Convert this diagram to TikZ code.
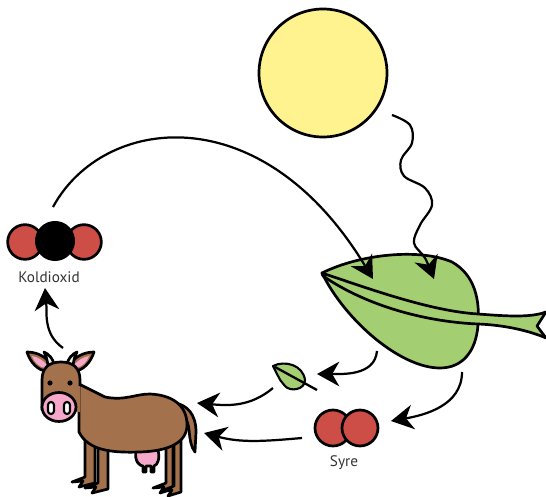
\documentclass[tikz,border=0pt]{standalone}
\usepackage{fontspec}
\newfontfamily\lblfont{PT Sans}
\usetikzlibrary{arrows.meta,positioning}

\definecolor{sunfill}{HTML}{FFF38F}
\definecolor{leafgreen}{HTML}{A4CE72}
\definecolor{molred}{HTML}{CC4E46}
\definecolor{cowbrown}{HTML}{A3714B}
\definecolor{cowpink}{HTML}{F5A8CA}
\definecolor{hornwhite}{HTML}{F1EEE6}
\definecolor{lbltext}{HTML}{333333}

\tikzset{
  outl/.style={draw=black, line width=2.3pt, line join=round},
  flow/.style={draw=black, line width=1.9pt, -{Stealth[length=19pt,width=21pt,inset=6pt]}},
  atom/.style={circle, outl, inner sep=0pt},
  lbl/.style={font=\lblfont\fontsize{13}{15}\selectfont, text=lbltext},
}

% leg with a splayed hoof: x, top, bottom, width
\newcommand{\cowleg}[4]{
  \draw[outl, fill=cowbrown] (#1,#2) -- (#1,#3) -- ++(-13,5) -- ++(11,-1)
    -- ++(-4,6) -- ++(#4+6,-4) -- (#1+#4,#2) -- cycle;
}

\begin{document}
\begin{tikzpicture}[x=0.03cm, y=-0.03cm]
\useasboundingbox (0,0) rectangle (546,497);

\node (sun) at (323,73) [atom, fill=sunfill, minimum size=3.84cm] {};

% big leaf and its midrib
\draw[outl, fill=leafgreen] (322,273) .. controls (360,254) and (420,248) .. (452,262)
  .. controls (475,275) and (480,300) .. (478,325)
  .. controls (476,352) and (462,368) .. (440,368)
  .. controls (400,368) and (345,320) .. (322,273) -- cycle;
\draw[outl, fill=leafgreen] (322,273) .. controls (370,289) and (430,311) .. (478,314)
  .. controls (505,316) and (530,318) .. (546,312) -- (537,326) -- (546,338)
  .. controls (530,331) and (505,325) .. (478,324)
  .. controls (430,322) and (370,308) .. (323,276) -- cycle;

% small leaf
\draw[outl, line width=1.8pt, fill=leafgreen] (273,366) .. controls (285,360) and (303,365) .. (305,380)
  .. controls (305,390) and (290,392) .. (285,386) .. controls (281,382) .. (273,366) -- cycle;
\draw[black, line width=2pt] (275,367) -- (317,390);

% oxygen
\node (o2a) at (333,428) [atom, fill=molred, minimum size=1.08cm] {};
\node (o2b) at (360,428) [atom, fill=molred, minimum size=1.08cm] {};
\node (syretxt) at (344,463) [lbl] {Syre};

% carbon dioxide
\node (co2a) at (25,242) [atom, fill=molred, minimum size=1.04cm] {};
\node (co2b) at (84,242) [atom, fill=molred, minimum size=1.04cm] {};
\node (co2c) at (55,241) [atom, fill=black, minimum size=1.12cm] {};
\node (co2txt) at (49,277) [lbl] {Koldioxid};

% cow
\cowleg{85}{435}{477}{10}
\cowleg{98}{440}{483}{10}
\cowleg{166}{440}{483}{7}
\cowleg{174}{440}{486}{7}
\draw[outl, fill=cowbrown] (175,403) .. controls (187,405) and (196,414) .. (196,432) -- (195,452)
  .. controls (191,447) and (190,440) .. (189,430) .. controls (188,420) and (184,414) .. (178,412) -- cycle;
\draw[outl, fill=cowpink] (136,450) .. controls (134,462) and (140,466) .. (143,466) -- (143,472) -- (146,472)
  -- (146,466) -- (151,466) -- (151,472) -- (154,472) -- (154,466)
  .. controls (158,465) and (160,458) .. (158,450) -- cycle;
\draw[outl, fill=cowbrown] (79,384) -- (105,397) .. controls (125,401) and (135,394) .. (150,394)
  .. controls (172,395) and (187,405) .. (187,425) .. controls (187,442) and (170,451) .. (140,452)
  .. controls (110,453) and (88,450) .. (79,432) -- cycle;
\draw[outl, fill=cowbrown] (47,371) .. controls (38,371) and (30,362) .. (27,352)
  .. controls (37,352) and (47,357) .. (51,365) -- cycle;
\fill[cowpink] (45,368) .. controls (39,367) and (34,362) .. (32,356) .. controls (38,357) and (44,361) .. (47,365) -- cycle;
\draw[outl, fill=cowbrown] (74,371) .. controls (83,371) and (91,362) .. (94,352)
  .. controls (84,352) and (74,357) .. (70,365) -- cycle;
\fill[cowpink] (76,368) .. controls (82,367) and (87,362) .. (89,356) .. controls (83,357) and (77,361) .. (74,365) -- cycle;
\draw[outl, fill=hornwhite] (48,365) .. controls (47,359) and (46,356) .. (44,352)
  .. controls (49,354) and (53,359) .. (54,364) -- cycle;
\draw[outl, fill=hornwhite] (73,365) .. controls (74,359) and (75,356) .. (77,352)
  .. controls (72,354) and (68,359) .. (67,364) -- cycle;
\fill[cowbrown] (42,380) .. controls (42,367) and (50,362) .. (61,362) .. controls (72,362) and (80,367) .. (80,380)
  -- (80,412) -- (42,412) -- cycle;
\draw[outl] (80,386) -- (80,380) .. controls (80,367) and (72,362) .. (61,362)
  .. controls (50,362) and (42,367) .. (42,380) -- (42,410);
\draw[outl, fill=cowpink] (59,407) ellipse [x radius=17, y radius=14.5];
\draw[outl, line width=1.8pt, fill=white, rounded corners=2.5pt] (48,402) rectangle (54,414);
\draw[outl, line width=1.8pt, fill=white, rounded corners=2.5pt] (64,402) rectangle (70,414);
\fill (50,383) circle [radius=2.6];
\fill (70,383) circle [radius=2.6];

% arrows
\coordinate (arc0) at (53,207);
\coordinate (arc1) at (373,279);
\coordinate (ray0) at (392,115);
\coordinate (ray1) at (434,279);
\coordinate (lf0) at (377,351);
\coordinate (lf1) at (317,374);
\coordinate (sl0) at (273,388);
\coordinate (sl1) at (197,403);
\coordinate (ox0) at (462,372);
\coordinate (ox1) at (391,421);
\coordinate (sy0) at (302,438);
\coordinate (sy1) at (204,433);
\coordinate (cw0) at (63,348);
\coordinate (cw1) at (45,288);

\draw[flow] (arc0) .. controls (103,115) and (262,95) .. (arc1);
\draw[flow] plot[smooth, tension=0.6] coordinates {(ray0) (410,125) (412,143) (401,160) (404,176)
  (425,188) (432,205) (420,225) (414,243) (425,258) (ray1)};
\draw[flow] (lf0) to[out=-95, in=0] (lf1);
\draw[flow] (sl0) to[out=-140, in=-5] (sl1);
\draw[flow] (ox0) to[out=-90, in=10] (ox1);
\draw[flow] (sy0) to[out=185, in=-15] (sy1);
\draw[flow] (cw0) to[out=145, in=-85] (cw1);
\end{tikzpicture}
\end{document}
